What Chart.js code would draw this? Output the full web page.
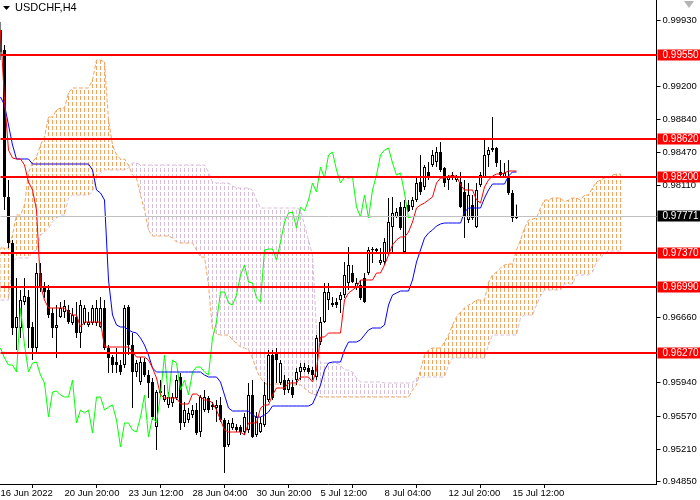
<!DOCTYPE html>
<html><head><meta charset="utf-8">
<script src="https://cdn.jsdelivr.net/npm/chart.js@4.4.1/dist/chart.umd.min.js"></script>
<style>html,body{margin:0;padding:0;background:#fff;}canvas{display:block;}</style>
</head><body>
<canvas id="c" width="700" height="500" style="width:700px;height:500px"></canvas>
<script>
// ---------- DATA ----------
const tickLabels = ["16 Jun 2022","20 Jun 20:00","23 Jun 12:00","28 Jun 04:00","30 Jun 20:00","5 Jul 12:00","8 Jul 04:00","12 Jul 20:00","15 Jul 12:00"];
const yTicks = [0.99930,0.99200,0.98840,0.98470,0.98110,0.96660,0.95940,0.95570,0.95210,0.94850];
const levels = [0.99550,0.98620,0.98200,0.97370,0.96990,0.96270];
const bid = 0.97771;

const opens = [.99820,.99600,.97983,.97477,.96542,.96542,.96828,.96883,.96553,.96322,
.97147,.96993,.96960,.96707,.96542,.96663,.96718,.96740,.96597,.96663,
.96487,.96597,.96575,.96597,.96597,.96553,.96762,.96322,.96223,.96168,
.96135,.96135,.96773,.96355,.96058,.95948,.96168,.96025,.95948,.95453,
.95827,.95750,.95695,.95717,.95772,.96003,.95497,.95530,.95585,.95640,
.95398,.95640,.95772,.95695,.95662,.95695,.95530,.95255,.95442,.95453,
.95453,.95398,.95420,.95805,.95365,.95398,.95475,.95750,.96245,.96267,
.95937,.95970,.95860,.95893,.95970,.96058,.96080,.96102,.96080,.96003,
.96388,.96608,.96850,.96795,.96828,.96850,.96905,.97037,.97147,.96982,
.97015,.97092,.97147,.97400,.97389,.97257,.97268,.97367,.97653,.97763,
.97873,.97378,.97895,.97873,.97950,.98148,.98093,.98258,.98335,.98368,
.98478,.98302,.98170,.98225,.98170,.98148,.98038,.97730,.97895,.97653,
.98115,.98203,.98445,.98500,.98522,.98258,.98203,.98203,.98027,.97752];
const highs = [.99908,.99655,.98170,.97510,.97092,.96960,.97092,.96960,.96608,.97257,
.97257,.97048,.97015,.96762,.96795,.96828,.96850,.96795,.96762,.96828,
.96850,.96795,.96718,.96795,.96850,.96883,.96850,.96355,.96245,.96322,
.96190,.96795,.96795,.96487,.96190,.96223,.96212,.96080,.95992,.95860,
.95970,.95915,.95838,.95827,.96025,.96047,.95728,.95662,.95695,.95717,
.95805,.95860,.95794,.95728,.95750,.95783,.95552,.95530,.95552,.95486,
.95475,.95607,.95937,.95970,.95618,.95563,.95948,.96300,.96300,.96322,
.96190,.96025,.95992,.95970,.96102,.96157,.96157,.96135,.96113,.96465,
.96663,.97037,.97037,.96883,.96872,.96938,.97268,.97433,.97235,.97092,
.97070,.97147,.97433,.97433,.97422,.97422,.97532,.97972,.97983,.97862,
.97928,.97950,.97950,.97983,.98203,.98445,.98335,.98368,.98500,.98533,
.98588,.98313,.98225,.98258,.98225,.98258,.98170,.98137,.98005,.98137,
.98258,.98610,.98533,.98863,.98533,.98390,.98357,.98390,.98060,.97900];
const lows = [.99490,.97840,.97422,.96465,.96300,.96432,.96795,.96322,.96190,.96278,
.96938,.96872,.96652,.96432,.96212,.96652,.96652,.96586,.96575,.96432,
.96322,.96575,.96553,.96575,.96564,.96542,.96300,.96047,.96047,.96047,
.96025,.96102,.96245,.95662,.96003,.95915,.96003,.95772,.95530,.95200,
.95783,.95728,.95662,.95673,.95750,.95420,.95453,.95497,.95552,.95365,
.95343,.95618,.95607,.95640,.95508,.95508,.94947,.95233,.95420,.95398,
.95365,.95365,.95387,.95332,.95343,.95387,.95453,.95728,.95750,.95937,
.95915,.95805,.95827,.95772,.95915,.95970,.96058,.96036,.95970,.95970,
.96355,.96597,.96740,.96773,.96762,.96707,.96872,.96960,.97037,.96960,
.96850,.96817,.97125,.97257,.97378,.97235,.97235,.97345,.97367,.97752,
.97620,.97367,.97818,.97840,.97928,.98005,.98060,.98170,.98313,.98313,
.98258,.98093,.98060,.98170,.98148,.97862,.97532,.97697,.97730,.97642,
.98093,.98192,.98313,.98478,.98313,.98192,.98192,.98005,.97708,.97740];
const closes = [.99578,.97983,.97477,.96542,.96663,.96850,.96894,.96542,.96322,.97147,
.96982,.96938,.96685,.96542,.96575,.96762,.96784,.96608,.96685,.96487,
.96795,.96762,.96608,.96762,.96762,.96762,.96322,.96212,.96135,.96135,
.96058,.96762,.96355,.96058,.96157,.96168,.96025,.95937,.95563,.95838,
.95849,.95805,.95783,.95783,.95970,.95497,.95640,.95607,.95640,.95387,
.95783,.95783,.95640,.95673,.95695,.95530,.95233,.95497,.95497,.95420,
.95398,.95563,.95805,.95343,.95563,.95497,.95805,.96245,.95772,.96190,
.96157,.95860,.95970,.95805,.96058,.96113,.96113,.96058,.96025,.96432,
.96608,.96938,.96938,.96817,.96795,.96905,.97125,.97235,.97048,.97037,
.96872,.96828,.97400,.97411,.97411,.97290,.97488,.97708,.97807,.97818,
.97642,.97873,.97829,.97950,.98137,.98038,.98313,.98192,.98445,.98478,
.98280,.98137,.98203,.98192,.98203,.97873,.97763,.98005,.97752,.98060,
.98225,.98445,.98500,.98522,.98357,.98225,.98247,.98027,.97752,.97771];

const tenkan = [.99820,.99050,.98500,.98412,.98401,.98401,.98335,.98148,.98060,.97840,
.97015,.96850,.96762,.96762,.96762,.96762,.96762,.96718,.96685,.96685,
.96553,.96608,.96608,.96608,.96608,.96608,.96333,.96333,.96333,.96333,
.96333,.96333,.96333,.96278,.96223,.96223,.96223,.96190,.96102,.95992,
.95805,.95772,.95772,.95772,.95772,.95706,.95706,.95706,.95816,.95816,
.95783,.95750,.95750,.95717,.95640,.95530,.95420,.95398,.95398,.95398,
.95398,.95365,.95497,.95497,.95497,.95662,.95695,.95695,.95805,.95882,
.95882,.95882,.95937,.95937,.95937,.96003,.96003,.96003,.95948,.96080,
.96443,.96443,.96487,.96487,.96487,.96487,.96850,.96927,.96960,.96993,
.97070,.97070,.97070,.97070,.97147,.97147,.97235,.97345,.97455,.97510,
.97543,.97543,.97598,.97708,.97862,.97895,.97917,.97950,.97983,.98137,
.98192,.98192,.98214,.98214,.98214,.98115,.98060,.98060,.98060,.97950,
.97917,.98093,.98170,.98214,.98236,.98236,.98247,.98269,.98269,.98269];
const kijun = [.99083,.98995,.98775,.98555,.98401,.98401,.98401,.98401,.98346,.98346,
.98346,.98346,.98346,.98346,.98346,.98346,.98346,.98346,.98346,.98346,
.98346,.98346,.98346,.98280,.98060,.98027,.97950,.97070,.96685,.96575,
.96553,.96553,.96520,.96498,.96487,.96432,.96355,.96245,.96102,.96058,
.96058,.96058,.96058,.96058,.96058,.96058,.96058,.96058,.96058,.96058,
.96058,.96025,.96003,.96003,.96003,.95948,.95805,.95662,.95629,.95629,
.95629,.95629,.95629,.95585,.95563,.95563,.95585,.95618,.95684,.95684,
.95684,.95684,.95684,.95684,.95684,.95684,.95684,.95684,.95706,.95805,
.95915,.96080,.96157,.96168,.96168,.96168,.96300,.96388,.96388,.96388,
.96410,.96465,.96520,.96542,.96542,.96542,.96575,.96795,.96905,.96927,
.96949,.96949,.96949,.97070,.97268,.97400,.97532,.97587,.97620,.97664,
.97686,.97697,.97697,.97697,.97697,.97697,.97818,.97862,.97862,.97862,
.97862,.97972,.98060,.98126,.98126,.98126,.98126,.98214,.98258,.98258];
const spanA = [.97422,.97422,.97422,.97565,.97785,.97785,.97895,.98247,.98368,.98423,
.98555,.98643,.98863,.98863,.98940,.98962,.98962,.99127,.99182,.99182,
.99182,.99182,.99182,.99270,.99490,.99490,.99468,.98830,.98555,.98445,
.98401,.98401,.98335,.98225,.98192,.98005,.97840,.97620,.97554,.97554,
.97554,.97554,.97554,.97532,.97488,.97477,.97477,.97477,.97477,.97400,
.97323,.97323,.97015,.96520,.96476,.96465,.96465,.96465,.96410,.96377,
.96333,.96322,.96300,.96212,.96080,.95992,.95937,.95915,.95926,.95926,
.95926,.95926,.95926,.95915,.95915,.95915,.95882,.95838,.95816,.95805,
.95783,.95783,.95783,.95783,.95783,.95783,.95783,.95783,.95783,.95783,
.95783,.95783,.95783,.95783,.95783,.95783,.95783,.95783,.95783,.95783,
.95783,.95783,.95783,.95860,.95915,.96080,.96245,.96300,.96322,.96322,
.96322,.96388,.96465,.96575,.96663,.96718,.96762,.96795,.96817,.96850,
.96850,.96850,.97048,.97125,.97158,.97202,.97235,.97246,.97246,.97400,
.97510,.97642,.97730,.97741,.97752,.97862,.97950,.97950,.97972,.97972,
.97972,.97928,.97950,.97972,.97972,.97950,.98005,.98005,.98082,.98148,
.98170,.98192,.98192,.98225,.98236,.98236];
const spanB = [.96850,.96850,.96850,.97268,.97312,.97312,.97312,.97312,.97378,.97400,
.97565,.97598,.97642,.97708,.97752,.97785,.97785,.97972,.98005,.98005,
.98005,.98005,.98005,.98038,.98192,.98247,.98280,.98280,.98280,.98280,
.98280,.98280,.98302,.98357,.98357,.98335,.98335,.98335,.98335,.98335,
.98335,.98335,.98335,.98335,.98335,.98335,.98335,.98335,.98335,.98335,
.98335,.98335,.98258,.98148,.98137,.98137,.98137,.98137,.98104,.98082,
.98082,.98082,.98082,.98060,.97950,.97862,.97862,.97862,.97862,.97862,
.97862,.97862,.97862,.97862,.97862,.97840,.97675,.97510,.97345,.96520,
.96157,.96157,.96157,.96157,.96157,.96135,.96080,.96080,.96058,.95992,
.95948,.95948,.95948,.95948,.95948,.95948,.95937,.95937,.95937,.95937,
.95937,.95937,.95937,.95937,.95992,.96003,.96003,.96003,.96003,.96003,
.96003,.96003,.96135,.96212,.96212,.96212,.96212,.96212,.96212,.96212,
.96212,.96212,.96355,.96465,.96465,.96465,.96465,.96465,.96465,.96465,
.96652,.96685,.96685,.96685,.96795,.96894,.96960,.96960,.96960,.96960,
.96960,.97026,.97026,.97026,.97125,.97125,.97125,.97125,.97158,.97268,
.97312,.97367,.97389,.97389,.97389,.97389];

// H4 bar times (weekdays only), 16 Jun 2022 04:00 onward
const categories = [];
(function(){
  const mon = ["Jan","Feb","Mar","Apr","May","Jun","Jul","Aug","Sep","Oct","Nov","Dec"];
  let t = Date.UTC(2022,5,16,4);
  while (categories.length < 165) {
    const d = new Date(t);
    const wd = d.getUTCDay();
    if (wd !== 0 && wd !== 6) {
      categories.push(d.getUTCDate()+" "+mon[d.getUTCMonth()]+" "+String(d.getUTCHours()).padStart(2,"0")+":00");
    }
    t += 4*3600*1000;
  }
})();

// ---------- STYLE ----------
const yMin = 0.94826, yMax = 1.00150;
const FONT = "Liberation Sans";
function hatch(color){
  const c = document.createElement('canvas'); c.width = 1; c.height = 6;
  const g = c.getContext('2d'); g.fillStyle = color; g.fillRect(0,0,1,4);
  return g.createPattern(c,'repeat');
}
const sandy = '#F4A460', thistle = '#D8BFD8';

const orangeCloud = spanA.map((a,i)=> a >= spanB[i] ? [spanB[i], a] : null);
const thistleCloud = spanA.map((a,i)=> a < spanB[i] ? [a, spanB[i]] : null);
const wicks = lows.map((l,i)=>[l, highs[i]]);
const bodies = opens.map((o,i)=>[o, closes[i]]);
const bodyColors = opens.map((o,i)=> closes[i] < o ? '#000000' : '#ffffff');

const overlay = {
  id: 'overlay',
  afterDraw(chart){
    const ctx = chart.ctx, ca = chart.chartArea, ys = chart.scales.y;
    const W = chart.width;
    ctx.save();
    // bid line
    let y = Math.round(ys.getPixelForValue(bid)) + 0.5;
    ctx.strokeStyle = '#c0c0c0'; ctx.lineWidth = 1;
    ctx.beginPath(); ctx.moveTo(ca.left, y); ctx.lineTo(ca.right, y); ctx.stroke();
    ctx.font = "10px " + FONT; ctx.textBaseline = 'middle'; ctx.textAlign = 'left';
    ctx.fillStyle = '#000'; ctx.fillRect(ca.right + 1, y - 6, W - ca.right - 1, 11);
    ctx.fillStyle = '#fff'; ctx.fillText(bid.toFixed(5), ca.right + 6, y);
    // levels
    levels.forEach(v => {
      const py = Math.round(ys.getPixelForValue(v));
      ctx.fillStyle = '#ff0000';
      ctx.fillRect(ca.left, py - 1, ca.right - ca.left, 2);
      ctx.fillRect(ca.right + 1, py - 5.5, W - ca.right - 1, 11);
      ctx.fillStyle = '#fff';
      ctx.fillText(v.toFixed(5), ca.right + 6, py);
    });
    // title
    ctx.fillStyle = '#000';
    ctx.beginPath(); ctx.moveTo(3,6); ctx.lineTo(10,6); ctx.lineTo(6.5,10); ctx.closePath(); ctx.fill();
    ctx.font = "11px " + FONT; ctx.textBaseline = 'middle';
    ctx.fillText("USDCHF,H4", 15, 8);
    // top-right marker
    ctx.fillStyle = '#b4b4b4';
    ctx.beginPath(); ctx.moveTo(684,1); ctx.lineTo(694,1); ctx.lineTo(689,8); ctx.closePath(); ctx.fill();
    ctx.restore();
  }
};

new Chart(document.getElementById('c'), {
  type: 'bar',
  data: {
    labels: categories,
    datasets: [
      { type:'bar', data: orangeCloud, backgroundColor: hatch(sandy), barThickness: 1, grouped:false, order: 6, inflateAmount: 0, borderWidth: 0 },
      { type:'bar', data: thistleCloud, backgroundColor: hatch(thistle), barThickness: 1, grouped:false, order: 6, inflateAmount: 0, borderWidth: 0 },
      { type:'line', data: spanA, borderColor: sandy, borderWidth: 1, borderDash:[4,2], pointRadius: 0, tension: 0, order: 5 },
      { type:'line', data: spanB, borderColor: thistle, borderWidth: 1, borderDash:[4,2], pointRadius: 0, tension: 0, order: 5 },
      { type:'bar', data: wicks, backgroundColor: '#000', barThickness: 1, grouped:false, order: 4, inflateAmount: 0, borderWidth: 0 },
      { type:'bar', data: bodies, backgroundColor: bodyColors, borderColor: '#000', borderWidth: 1, borderSkipped: false, barThickness: 3, grouped:false, order: 3, inflateAmount: 0 },
      { type:'line', data: closes.slice(26), borderColor: '#00ff00', borderWidth: 1, pointRadius: 0, tension: 0, order: 2 },
      { type:'line', data: kijun, borderColor: '#0000ff', borderWidth: 1, pointRadius: 0, tension: 0, order: 1 },
      { type:'line', data: tenkan, borderColor: '#ff0000', borderWidth: 1, pointRadius: 0, tension: 0, order: 0 }
    ]
  },
  options: {
    responsive: false, animation: false, devicePixelRatio: 1,
    layout: { padding: { left: 0.5, right: 0, top: 0, bottom: 0 } },
    plugins: { legend: { display: false }, tooltip: { enabled: false }, title: { display: false } },
    scales: {
      x: {
        type: 'category', offset: false,
        grid: { display: true, drawOnChartArea: false, drawTicks: true, tickLength: 4, color: '#000' },
        border: { display: true, color: '#000', width: 1 },
        ticks: { autoSkip: false, maxRotation: 0, minRotation: 0, align: 'start', padding: 0, color: '#000',
                 font: { family: FONT, size: 9.5 }, callback: (v) => tickLabels[v/16] },
        afterBuildTicks: s => { s.ticks = tickLabels.map((_,k)=>({ value: k*16 })); },
        afterFit: s => { s.height = 16; s.paddingLeft = 0; s.paddingRight = 0; s.paddingTop = 0; s.paddingBottom = 0; }
      },
      y: {
        type: 'linear', position: 'right', min: yMin, max: yMax,
        grid: { display: true, drawOnChartArea: false, drawTicks: true, tickLength: 4, color: '#000' },
        border: { display: true, color: '#000', width: 1 },
        ticks: { color: '#000', padding: 2, font: { family: FONT, size: 9.5 }, callback: v => Number(v).toFixed(5) },
        afterBuildTicks: s => { s.ticks = yTicks.map(v => ({ value: v })); },
        afterFit: s => { s.width = 43.5; s.paddingTop = 0; s.paddingBottom = 0; s.paddingLeft = 0; s.paddingRight = 0; }
      }
    }
  },
  plugins: [overlay]
});
</script>
</body></html>
